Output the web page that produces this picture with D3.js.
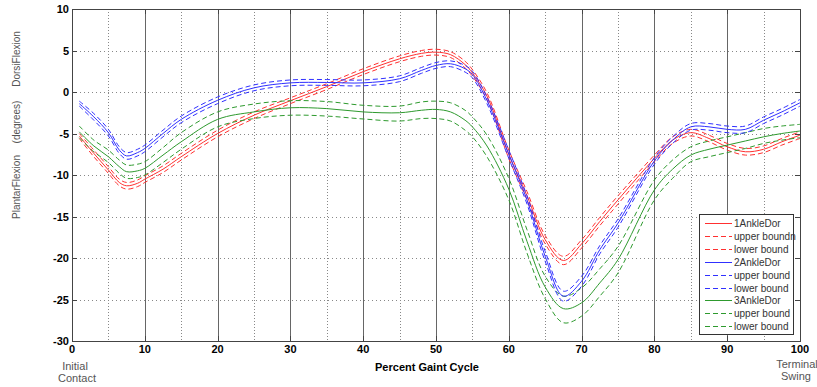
<!DOCTYPE html>
<html>
<head>
<meta charset="utf-8">
<script src="https://cdn.jsdelivr.net/npm/d3@7"></script>
<style>
  body { margin: 0; background: #fff; }
  svg { font-family: Arial, "Liberation Sans", sans-serif; }
  .grid-minor { stroke: #888; stroke-dasharray: 1,2; }
  .grid-h { stroke: #888; stroke-dasharray: 1,3; }
  .grid-major { stroke: #666; }
  .ticklab { font-size: 11px; font-weight: bold; fill: #000; }
  .side { font-size: 11px; fill: #555; }
  .yside { font-size: 10px; fill: #555; }
  .leg { font-size: 10px; fill: #333; }
</style>
</head>
<body>
<script>
//percent of gait cycle where values were read
var pct = [1, 3, 5, 6.5, 7.5, 9, 10, 12.5, 15, 20, 25, 30, 35, 40, 45, 48, 50, 52, 54, 55, 57, 60, 62.5, 65, 67.5, 70, 72.5, 75, 80, 82.5, 85, 87.5, 90, 92.5, 95, 97.5, 100];

//1AnkleDor (red)
var red1 = [-5.3, -7.4, -9.4, -10.9, -11.3, -11.0, -10.5, -9.3, -7.8, -5.0, -2.8, -1.05, 0.65, 2.45, 4.0, 4.65, 4.8, 4.5, 3.3, 2.3, -0.5, -7.5, -12.5, -17.8, -20.3, -18.3, -15.6, -13.0, -8.0, -5.8, -4.9, -5.6, -6.6, -7.2, -6.9, -6.0, -5.2];
var red1Up = [-5.0, -7.0, -9.0, -10.5, -10.9, -10.6, -10.1, -8.9, -7.4, -4.6, -2.4, -0.7, 1.0, 2.8, 4.35, 5.0, 5.15, 4.85, 3.7, 2.7, -0.1, -7.0, -12.0, -17.3, -19.8, -17.8, -15.1, -12.5, -7.6, -5.4, -4.5, -5.2, -6.2, -6.8, -6.5, -5.6, -4.8];
var red1Lo = [-5.6, -7.8, -9.8, -11.3, -11.7, -11.4, -10.9, -9.7, -8.2, -5.4, -3.2, -1.4, 0.3, 2.1, 3.65, 4.3, 4.45, 4.15, 2.9, 1.9, -0.9, -8.0, -13.0, -18.3, -20.8, -18.8, -16.1, -13.5, -8.4, -6.2, -5.3, -6.0, -7.0, -7.6, -7.3, -6.4, -5.6];

//2AnkleDor (blue)
var blue2 = [-1.4, -3.0, -4.9, -7.0, -7.7, -7.3, -6.8, -5.0, -3.3, -1.0, 0.5, 1.1, 1.15, 1.1, 1.6, 2.6, 3.2, 3.4, 2.8, 2.1, -1.0, -7.5, -13.0, -19.8, -24.6, -22.8, -19.0, -15.8, -8.3, -5.8, -4.2, -4.2, -4.5, -4.5, -3.4, -2.4, -1.3];
var blue2Up = [-1.1, -2.6, -4.5, -6.6, -7.3, -6.9, -6.4, -4.6, -2.9, -0.6, 0.85, 1.45, 1.5, 1.45, 1.95, 2.95, 3.55, 3.75, 3.2, 2.5, -0.6, -7.0, -12.5, -19.2, -24.0, -22.2, -18.5, -15.3, -7.9, -5.4, -3.8, -3.8, -4.1, -4.1, -3.0, -2.0, -0.9];
var blue2Lo = [-1.7, -3.4, -5.3, -7.4, -8.1, -7.7, -7.2, -5.4, -3.7, -1.4, 0.15, 0.75, 0.8, 0.75, 1.25, 2.25, 2.85, 3.05, 2.4, 1.7, -1.4, -8.0, -13.5, -20.4, -25.2, -23.4, -19.5, -16.3, -8.7, -6.2, -4.6, -4.6, -4.9, -4.9, -3.8, -2.8, -1.7];

//3AnkleDor (green)
var green3 = [-4.8, -6.5, -7.8, -9.0, -9.6, -9.5, -9.2, -7.6, -6.0, -3.3, -2.4, -1.9, -2.0, -2.4, -2.5, -2.2, -2.1, -2.4, -3.4, -4.2, -6.5, -11.7, -18.0, -23.5, -26.1, -25.4, -23.0, -20.2, -11.8, -9.3, -7.6, -6.9, -6.4, -5.9, -5.4, -5.0, -4.7];
var green3Up = [-4.1, -5.8, -7.0, -8.2, -8.8, -8.7, -8.4, -6.7, -4.9, -2.4, -1.45, -1.05, -1.15, -1.6, -1.7, -1.2, -1.1, -1.3, -2.2, -3.0, -5.2, -10.4, -16.6, -22.2, -24.6, -23.6, -21.3, -18.6, -10.6, -8.2, -6.6, -5.9, -5.4, -4.9, -4.4, -4.1, -3.9];
var green3Lo = [-5.5, -7.2, -8.5, -9.8, -10.4, -10.3, -10.0, -8.5, -6.9, -4.2, -3.2, -2.8, -2.9, -3.25, -3.5, -3.2, -3.2, -3.5, -4.6, -5.4, -7.8, -13.0, -19.4, -24.9, -27.8, -27.0, -24.6, -21.8, -13.0, -10.4, -8.4, -7.8, -7.3, -6.8, -6.2, -5.8, -5.5];

var legendNames = ["1AnkleDor", "upper boundn", "lower bound", "2AnkleDor", "upper bound", "lower bound", "3AnkleDor", "upper bound", "lower bound"];
var xTicks = [0, 10, 20, 30, 40, 50, 60, 70, 80, 90, 100];
var yTicks = [10, 5, 0, -5, -10, -15, -20, -25, -30];

var RED = "#ff3030", BLUE = "#3030ff", GREEN = "#2e9a2e";

var width = 817, height = 387;
var margin = {left: 72, right: 17, top: 9, bottom: 46};

var svg = d3.select("body").append("svg")
    .attr("width", width)
    .attr("height", height);

var x = d3.scaleLinear().domain([0, 100]).range([margin.left, width - margin.right]);
var y = d3.scaleLinear().domain([-30, 10]).range([height - margin.bottom, margin.top]);

//grid
var g = svg.append("g").attr("shape-rendering", "crispEdges");
g.selectAll(".grid-minor")
    .data(d3.range(5, 100, 10))
    .enter().append("line")
    .attr("class", "grid-minor")
    .attr("x1", function(d){ return Math.round(x(d)) + 0.5; })
    .attr("x2", function(d){ return Math.round(x(d)) + 0.5; })
    .attr("y1", y(10)).attr("y2", y(-30));
g.selectAll(".grid-h")
    .data(yTicks.slice(1, -1))
    .enter().append("line")
    .attr("class", "grid-h")
    .attr("y1", function(d){ return Math.round(y(d)) + 0.5; })
    .attr("y2", function(d){ return Math.round(y(d)) + 0.5; })
    .attr("x1", x(0)).attr("x2", x(100));
g.selectAll(".grid-major")
    .data(xTicks.slice(1, -1))
    .enter().append("line")
    .attr("class", "grid-major")
    .attr("x1", function(d){ return Math.round(x(d)) + 0.5; })
    .attr("x2", function(d){ return Math.round(x(d)) + 0.5; })
    .attr("y1", y(10)).attr("y2", y(-30));

//curves
var line = d3.line()
    .x(function(d){ return x(d[0]); })
    .y(function(d){ return y(d[1]); })
    .curve(d3.curveCatmullRom.alpha(0.5));

var series = [
    {vals: red1Up, color: RED, dash: "5,3"},
    {vals: red1Lo, color: RED, dash: "5,3"},
    {vals: red1, color: RED, dash: null},
    {vals: green3Up, color: GREEN, dash: "5,3"},
    {vals: green3Lo, color: GREEN, dash: "5,3"},
    {vals: green3, color: GREEN, dash: null},
    {vals: blue2Up, color: BLUE, dash: "5,3"},
    {vals: blue2Lo, color: BLUE, dash: "5,3"},
    {vals: blue2, color: BLUE, dash: null}
];

svg.append("g").selectAll("path")
    .data(series)
    .enter().append("path")
    .attr("fill", "none")
    .attr("stroke", function(d){ return d.color; })
    .attr("stroke-width", 1)
    .attr("stroke-dasharray", function(d){ return d.dash; })
    .attr("d", function(d){ return line(pct.map(function(p, i){ return [p, d.vals[i]]; })); });

//axes frame
svg.append("rect")
    .attr("x", x(0) + 0.5).attr("y", y(10) + 0.5)
    .attr("width", x(100) - x(0)).attr("height", y(-30) - y(10))
    .attr("fill", "none").attr("stroke", "#444")
    .attr("shape-rendering", "crispEdges");

//ticks
var tickG = svg.append("g").attr("shape-rendering", "crispEdges").attr("stroke", "#444");
yTicks.forEach(function(t){
    var yy = Math.round(y(t)) + 0.5;
    tickG.append("line").attr("x1", x(0)).attr("x2", x(0) + 5).attr("y1", yy).attr("y2", yy);
    tickG.append("line").attr("x1", x(100) - 5).attr("x2", x(100)).attr("y1", yy).attr("y2", yy);
});
xTicks.forEach(function(t){
    var xx = Math.round(x(t)) + 0.5;
    tickG.append("line").attr("x1", xx).attr("x2", xx).attr("y1", y(-30)).attr("y2", y(-30) - 5);
    tickG.append("line").attr("x1", xx).attr("x2", xx).attr("y1", y(10)).attr("y2", y(10) + 5);
});

//tick labels
svg.selectAll(".ylab")
    .data(yTicks)
    .enter().append("text")
    .attr("class", "ticklab")
    .attr("x", x(0) - 3)
    .attr("y", function(d){ return y(d) + 4; })
    .attr("text-anchor", "end")
    .text(function(d){ return d; });
svg.selectAll(".xlab")
    .data(xTicks)
    .enter().append("text")
    .attr("class", "ticklab")
    .attr("x", function(d){ return x(d); })
    .attr("y", y(-30) + 12)
    .attr("text-anchor", "middle")
    .text(function(d){ return d; });

//axis titles
svg.append("text").attr("x", 427).attr("y", 371)
    .attr("text-anchor", "middle").attr("font-size", "11px").attr("font-weight", "bold")
    .text("Percent Gaint Cycle");

[["DorsiFlexion", 59], ["(degrees)", 122], ["PlantarFlexion", 187]].forEach(function(t){
    svg.append("text").attr("class", "yside")
        .attr("transform", "translate(20," + t[1] + ") rotate(-90)")
        .attr("text-anchor", "middle")
        .text(t[0]);
});
svg.append("text").attr("class", "side").attr("x", 75).attr("y", 370).attr("text-anchor", "middle").text("Initial");
svg.append("text").attr("class", "side").attr("x", 77).attr("y", 382).attr("text-anchor", "middle").text("Contact");
svg.append("text").attr("class", "side").attr("x", 797).attr("y", 368).attr("text-anchor", "middle").text("Terminal");
svg.append("text").attr("class", "side").attr("x", 796).attr("y", 380).attr("text-anchor", "middle").text("Swing");

//legend
var leg = svg.append("g").attr("transform", "translate(699,214)");
leg.append("rect").attr("x", 0.5).attr("y", 0.5).attr("width", 94).attr("height", 120)
    .attr("fill", "#fff").attr("stroke", "#333").attr("shape-rendering", "crispEdges");
var legColors = [RED, RED, RED, BLUE, BLUE, BLUE, GREEN, GREEN, GREEN];
legendNames.forEach(function(name, i){
    var ly = Math.round(9 + i * 12.9) + 0.5;
    leg.append("line").attr("x1", 6).attr("x2", 33).attr("y1", ly).attr("y2", ly)
        .attr("stroke", legColors[i])
        .attr("stroke-width", 1)
        .attr("stroke-dasharray", i % 3 === 0 ? "none" : "5,3");
    leg.append("text").attr("class", "leg").attr("x", 35).attr("y", ly + 3.5).text(name);
});
</script>
</body>
</html>
